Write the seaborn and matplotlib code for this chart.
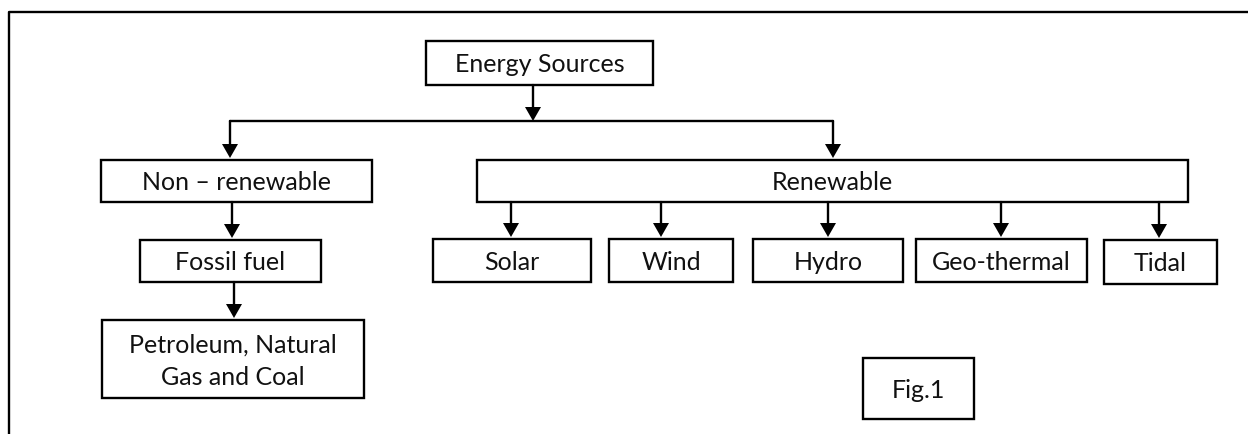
import matplotlib
matplotlib.use("Agg")
from matplotlib import pyplot as plt
from matplotlib.patches import Rectangle
import seaborn as sns

# node labels
labels = ["Energy Sources", "Non \u2013 renewable", "Renewable", "Fossil fuel",
          "Petroleum, Natural\nGas and Coal",
          "Solar", "Wind", "Hydro", "Geo-thermal", "Tidal", "Fig.1"]

# box geometry in pixels: left, top, right, bottom
box_left = [426, 101, 477, 140, 102, 433, 609, 753, 916, 1104, 863]
box_top = [42, 161, 161, 241, 321, 240, 240, 240, 240, 241, 359]
box_right = [653, 372, 1188, 321, 364, 591, 733, 903, 1087, 1217, 974]
box_bottom = [86, 203, 203, 283, 399, 283, 283, 283, 283, 285, 420]

# arrows: x, y start, y tip
arrow_x = [533, 230, 833, 232, 234, 511, 661, 828, 1001, 1159]
arrow_y0 = [86, 122, 122, 203, 283, 203, 203, 203, 203, 203]
arrow_y1 = [122, 159, 159, 239, 319, 238, 238, 238, 238, 239]

# horizontal splitter line
split_y = 122
split_x = [230, 833]

W, H = 1248, 435

sns.set_style("white")
plt.rcParams['font.family'] = ['Lato', 'DejaVu Sans']

fig = plt.figure(figsize=(W / 100, H / 100), dpi=100)
ax = fig.add_axes([0, 0, 1, 1])
ax.set_xlim(0, W)
ax.set_ylim(H, 0)
ax.axis("off")

lw = 1.7
ink = "black"

# outer frame (only left and top edges visible)
sns.lineplot(x=[9, 9, W], y=[H, 13, 13], sort=False, estimator=None,
             ax=ax, color=ink, lw=lw)

# boxes with text
for i, lab in enumerate(labels):
    l, t, r, b = box_left[i], box_top[i], box_right[i], box_bottom[i]
    ax.add_patch(Rectangle((l, t), r - l, b - t, fill=False, ec=ink, lw=lw))
    ax.text((l + r) / 2, (t + b) / 2 + 1, lab, ha="center", va="center",
            fontsize=18, color="#111111", linespacing=1.5)

# splitter
sns.lineplot(x=split_x, y=[split_y, split_y], ax=ax, color=ink, lw=lw)

# arrows
hw, hl = 8, 14
for x, y0, y1 in zip(arrow_x, arrow_y0, arrow_y1):
    ax.plot([x, x], [y0, y1 - hl], color=ink, lw=lw)
    ax.fill([x - hw, x + hw, x], [y1 - hl, y1 - hl, y1], color=ink, lw=0)

fig.savefig("out.png", dpi=100)
